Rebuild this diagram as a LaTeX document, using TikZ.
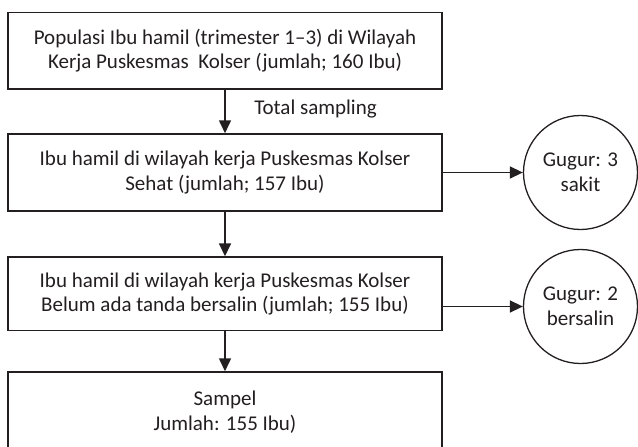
\documentclass[tikz,border=0pt]{standalone}
\usepackage{fontspec}
\setmainfont{Carlito}
\usetikzlibrary{arrows.meta}
\definecolor{ink}{HTML}{231F20}

\begin{document}
\begin{tikzpicture}[x=1pt, y=-1pt,
    every node/.style={text=ink, align=center, font=\fontsize{21}{24.5}\selectfont},
    box/.style={draw=ink, line width=1.5pt, minimum width=434pt, inner sep=0pt},
    ring/.style={draw=ink, line width=1.3pt, circle, minimum size=114pt, inner sep=0pt},
    arr/.style={draw=ink, line width=1.6pt, -{Triangle[width=12pt,length=13pt]}}]
\useasboundingbox (0,0) rectangle (638,447);
\node[box, minimum height=76.5pt] (pop) at (225,50.5) {Populasi Ibu hamil (trimester 1--3) di Wilayah\\Kerja Puskesmas\ \ Kolser (jumlah; 160 Ibu)}; % populasi
\node[box, minimum height=77pt] (sehat) at (225,172.5) {Ibu hamil di wilayah kerja Puskesmas Kolser\\Sehat (jumlah; 157 Ibu)}; % sehat
\node[box, minimum height=73.5pt] (belum) at (225,293.8) {Ibu hamil di wilayah kerja Puskesmas Kolser\\Belum ada tanda bersalin (jumlah; 155 Ibu)}; % belum bersalin
\node[box, minimum height=80pt] (sampel) at (225,412) {Sampel\\Jumlah: 155 Ibu)}; % sampel
\node[ring] (gugur1) at (580.5,172.5) {Gugur: 3\\sakit}; % gugur sakit
\node[ring] (gugur2) at (580.5,306.5) {Gugur: 2\\bersalin}; % gugur bersalin
\node (total) at (315.5,109) {Total sampling};
\draw[arr] (pop) -- (sehat);
\draw[arr] (sehat) -- (belum);
\draw[arr] (sehat) -- (gugur1);
\draw[arr] (belum.east |- gugur2.west) -- (gugur2.west);
\draw[arr] (belum) -- (sampel);
\end{tikzpicture}
\end{document}
